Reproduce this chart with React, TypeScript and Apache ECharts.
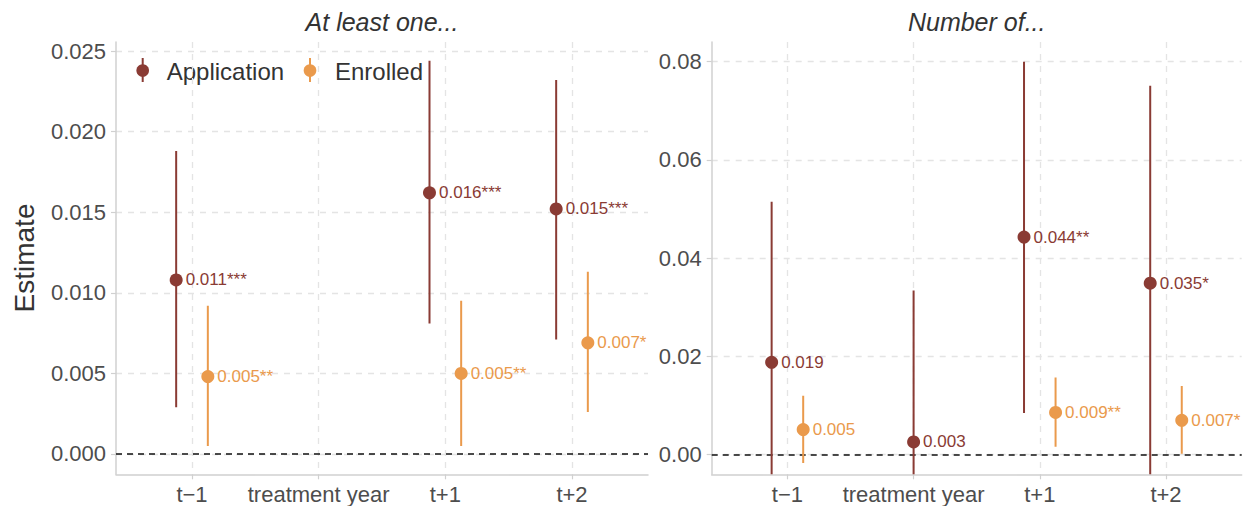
import React, { useEffect, useRef } from "react";
import * as echarts from "echarts";

// ---------- data ----------
const categories = ["t\u22121", "treatment year", "t+1", "t+2"];
const seriesNames = ["Application", "Enrolled"];
const panelTitles = ["At least one...", "Number of..."];

// Panel 1: "At least one..."
const appEst1 = [0.0108, null, 0.0162, 0.0152];
const appLo1 = [0.0029, null, 0.0081, 0.0071];
const appHi1 = [0.0188, null, 0.0244, 0.0232];
const appLab1 = ["0.011***", "", "0.016***", "0.015***"];
const enrEst1 = [0.0048, null, 0.005, 0.0069];
const enrLo1 = [0.0005, null, 0.0005, 0.0026];
const enrHi1 = [0.0092, null, 0.0095, 0.0113];
const enrLab1 = ["0.005**", "", "0.005**", "0.007*"];

// Panel 2: "Number of..."
const appEst2 = [0.0188, 0.0026, 0.0443, 0.0349];
const appLo2 = [-0.0139, -0.0282, 0.0085, -0.0053];
const appHi2 = [0.0515, 0.0334, 0.08, 0.0751];
const appLab2 = ["0.019", "0.003", "0.044**", "0.035*"];
const enrEst2 = [0.0051, null, 0.0086, 0.007];
const enrLo2 = [-0.0017, null, 0.0016, 0.0002];
const enrHi2 = [0.012, null, 0.0157, 0.014];
const enrLab2 = ["0.005", "", "0.009**", "0.007*"];

const yTicks1 = [0, 0.005, 0.01, 0.015, 0.02, 0.025];
const yTicks2 = [0, 0.02, 0.04, 0.06, 0.08];

// ---------- style ----------
const FONT = "'Liberation Sans', Arial, sans-serif";
const APP_COLOR = "#8A3B34";
const ENR_COLOR = "#EA9A4C";
const GRID_COLOR = "#e4e4e4";
const AXIS_COLOR = "#d0d0d0";
const TEXT_COLOR = "#4d4d4d";
const DODGE = 0.125;

type Panel = {
  est: (number | null)[][];
  lo: (number | null)[][];
  hi: (number | null)[][];
  lab: string[][];
};

const panels: Panel[] = [
  {
    est: [appEst1, enrEst1],
    lo: [appLo1, enrLo1],
    hi: [appHi1, enrHi1],
    lab: [appLab1, enrLab1],
  },
  {
    est: [appEst2, enrEst2],
    lo: [appLo2, enrLo2],
    hi: [appHi2, enrHi2],
    lab: [appLab2, enrLab2],
  },
];

function xPos(panel: Panel, s: number, i: number) {
  const both = panel.est[0][i] != null && panel.est[1][i] != null;
  if (!both) return i + 1;
  return i + 1 + (s === 0 ? -DODGE : DODGE);
}

export default function App() {
  const ref = useRef<HTMLDivElement>(null);

  useEffect(() => {
    if (!ref.current) return;
    const chart = echarts.init(ref.current, undefined, { renderer: "svg" });
    const colors = [APP_COLOR, ENR_COLOR];

    const series: any[] = [];
    panels.forEach((panel, p) => {
      [0, 1].forEach((s) => {
        const pts: any[] = [];
        const bars: any[] = [];
        panel.est[s].forEach((v, i) => {
          if (v == null) return;
          const x = xPos(panel, s, i);
          pts.push([x, v, panel.lab[s][i]]);
          bars.push([x, panel.lo[s][i], panel.hi[s][i]]);
        });
        series.push({
          type: "custom",
          name: seriesNames[s],
          xAxisIndex: p,
          yAxisIndex: p,
          clip: true,
          silent: true,
          z: 3,
          data: bars,
          renderItem: (params: any, api: any) => {
            const a = api.coord([api.value(0), api.value(1)]);
            const b = api.coord([api.value(0), api.value(2)]);
            return {
              type: "line",
              shape: { x1: a[0], y1: a[1], x2: b[0], y2: b[1] },
              style: { stroke: colors[s], lineWidth: 2 },
            };
          },
          ...(s === 0
            ? {
                markLine: {
                  silent: true,
                  symbol: "none",
                  label: { show: false },
                  lineStyle: { type: [6, 5], color: "#111", width: 1.6 },
                  data: [{ yAxis: 0 }],
                  z: 2,
                },
              }
            : {}),
        });
        series.push({
          type: "scatter",
          name: seriesNames[s],
          xAxisIndex: p,
          yAxisIndex: p,
          symbol: "circle",
          symbolSize: 13,
          z: 4,
          itemStyle: { color: colors[s], opacity: 1 },
          label: {
            show: true,
            position: "right",
            distance: 3,
            fontSize: 17,
            fontFamily: FONT,
            color: colors[s],
            formatter: (d: any) => d.data[2],
          },
          data: pts,
        });
      });
    });

    const gridDefs = [
      { left: 116, top: 42, width: 532, height: 432.3 },
      { left: 711.7, top: 42, width: 530, height: 432.3 },
    ];
    const yRanges = [
      { min: -0.00126, max: 0.02556, ticks: yTicks1, dec: 3 },
      { min: -0.004, max: 0.084, ticks: yTicks2, dec: 2 },
    ];

    const option: any = {
      animation: false,
      textStyle: { fontFamily: FONT },
      grid: gridDefs,
      xAxis: [0, 1].map((i) => ({
        type: "value",
        gridIndex: i,
        min: 0.4,
        max: 4.6,
        axisLine: { show: true, onZero: false, lineStyle: { color: AXIS_COLOR, width: 1.5 } },
        axisTick: {
          show: true,
          length: 5,
          customValues: [1, 2, 3, 4],
          lineStyle: { color: AXIS_COLOR, width: 1.2 },
        },
        axisLabel: {
          customValues: [1, 2, 3, 4],
          formatter: (v: number) => categories[Math.round(v) - 1],
          fontSize: 22,
          color: TEXT_COLOR,
          margin: 9,
          fontFamily: FONT,
        },
        splitLine: {
          show: true,
          lineStyle: { type: [6, 6], color: GRID_COLOR, width: 1.3 },
        },
      })),
      yAxis: [0, 1].map((i) => ({
        type: "value",
        gridIndex: i,
        min: yRanges[i].min,
        max: yRanges[i].max,
        axisLine: { show: true, onZero: false, lineStyle: { color: AXIS_COLOR, width: 1.5 } },
        axisTick: {
          show: true,
          length: 5,
          customValues: yRanges[i].ticks,
          lineStyle: { color: AXIS_COLOR, width: 1.2 },
        },
        axisLabel: {
          customValues: yRanges[i].ticks,
          formatter: (v: number) => v.toFixed(yRanges[i].dec),
          fontSize: 22,
          color: TEXT_COLOR,
          margin: 10,
          fontFamily: FONT,
        },
        splitLine: {
          show: true,
          lineStyle: { type: [6, 6], color: GRID_COLOR, width: 1.3 },
        },
      })),
      graphic: [
        {
          type: "text",
          x: 382,
          y: 22,
          style: {
            text: panelTitles[0],
            font: `italic 25px ${FONT}`,
            fill: "#333333",
            align: "center",
            verticalAlign: "middle",
          },
        },
        {
          type: "text",
          x: 976.7,
          y: 22,
          style: {
            text: panelTitles[1],
            font: `italic 25px ${FONT}`,
            fill: "#333333",
            align: "center",
            verticalAlign: "middle",
          },
        },
        {
          type: "text",
          x: 24,
          y: 258,
          rotation: Math.PI / 2,
          style: {
            text: "Estimate",
            font: `28px ${FONT}`,
            fill: "#333333",
            align: "center",
            verticalAlign: "middle",
          },
        },
        // legend
        ...[0, 1].flatMap((s) => {
          const gx = [142.7, 310][s];
          const tx = [166.7, 335][s];
          return [
            {
              type: "line",
              shape: { x1: gx, y1: 58, x2: gx, y2: 82 },
              style: { stroke: colors[s], lineWidth: 2 },
            },
            {
              type: "circle",
              shape: { cx: gx, cy: 70.5, r: 6.3 },
              style: { fill: colors[s] },
            },
            {
              type: "text",
              x: tx,
              y: 71,
              style: {
                text: seriesNames[s],
                font: `24px ${FONT}`,
                fill: "#333333",
                align: "left",
                verticalAlign: "middle",
              },
            },
          ];
        }),
      ],
      series,
    };

    chart.setOption(option);
    return () => chart.dispose();
  }, []);

  return (
    <div
      ref={ref}
      style={{ position: "absolute", left: 0, top: 0, width: 1247, height: 506 }}
    />
  );
}
